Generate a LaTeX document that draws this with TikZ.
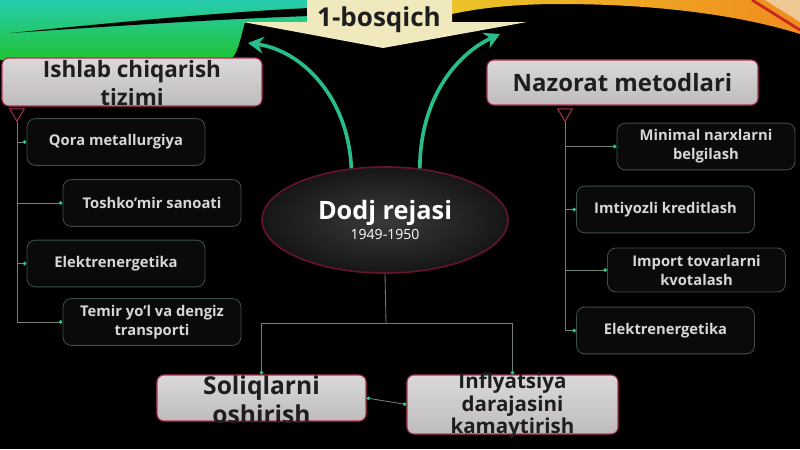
\documentclass[tikz,border=0pt]{standalone}
\usepackage{fontspec}
\setmainfont{Open Sans}
\definecolor{hdred}{RGB}{176, 48, 80}
\definecolor{hdtop}{RGB}{218, 216, 217}
\definecolor{hdbot}{RGB}{192, 188, 190}
\definecolor{hdink}{RGB}{30, 30, 30}
\definecolor{itemedge}{RGB}{62, 80, 70}
\definecolor{itemfill}{RGB}{10, 10, 10}
\definecolor{itemink}{RGB}{215, 215, 215}
\definecolor{linkgray}{RGB}{110, 130, 118}
\definecolor{dotgreen}{RGB}{40, 200, 130}
\definecolor{swgreen}{RGB}{40, 190, 140}
\definecolor{bannerbg}{RGB}{240, 233, 190}
\definecolor{waveteal}{RGB}{40, 205, 175}
\definecolor{wavegreen}{RGB}{30, 195, 50}
\definecolor{waveyellow}{RGB}{235, 195, 40}
\definecolor{waveorange}{RGB}{240, 140, 30}
\definecolor{wavepeach}{RGB}{240, 200, 150}
\definecolor{wavered}{RGB}{200, 40, 30}
\definecolor{ellred}{RGB}{100, 20, 40}
\definecolor{ellin}{RGB}{58, 58, 58}
\definecolor{ellout}{RGB}{22, 22, 22}
\usetikzlibrary{shapes.geometric, arrows.meta, positioning, calc}

\tikzset{
  hdbox/.style={draw=hdred, line width=0.8pt, top color=hdtop, bottom color=hdbot, rounded corners=5pt},
  hdtext/.style={text=hdink, align=center},
  itembox/.style={draw=itemedge, line width=0.6pt, fill=itemfill, rounded corners=6pt, text=itemink,
    align=center, minimum width=4.45cm, minimum height=1.17cm, font=\bfseries\fontsize{10.5}{13.5}\selectfont},
  trunkmark/.style={regular polygon, regular polygon sides=3, shape border rotate=180, draw=hdred,
    line width=0.7pt, minimum size=0.42cm, inner sep=0pt},
  link/.style={draw=linkgray, line width=0.6pt, -{Circle[length=2.6pt, color=dotgreen]}},
  swoosh/.style={draw=swgreen, line width=2.6pt, -{Stealth[length=11pt, width=12pt]}}
}

\begin{document}
\begin{tikzpicture}[x=0.025cm, y=-0.025cm]
  % Background
  \fill[black] (0,0) rectangle (800,449);
  \useasboundingbox (0,0) rectangle (800,449);
  \shade[top color=waveteal, bottom color=wavegreen] (0,0) -- (310,0) -- (310,22) -- (245,22)
    .. controls (240,40) and (238,52) .. (232,58) -- (0,60) -- cycle;
  \fill[black] (10,33) .. controls (100,24) and (220,12) .. (310,8) -- (310,16)
    .. controls (220,19) and (100,27) .. (10,33) -- cycle;
  \shade[left color=waveyellow, right color=waveorange] (452,0) -- (800,0) -- (800,34)
    .. controls (730,12) and (640,4) .. (560,4) .. controls (510,4) and (475,9) .. (452,14) -- cycle;
  \fill[wavepeach] (765,0) -- (800,0) -- (800,22) -- cycle;
  \draw[wavered, line width=2pt] (752,0) -- (800,30);

  % Stage banner
  \fill[bannerbg] (307,0) -- (452,0) -- (452,22) -- (527,22) -- (383,48) -- (243,22) -- (307,22) -- cycle;
  \node[text=hdink, font=\bfseries\fontsize{18.5}{20}\selectfont] (stage) at (379,20) {1-bosqich};

  % Centre
  \node[ellipse, draw=ellred, line width=1.2pt, inner color=ellin, outer color=ellout,
    minimum width=6.15cm, minimum height=2.65cm, align=center, text=white] (dodj) at (385,220)
    {{\bfseries\fontsize{18}{20}\selectfont Dodj rejasi}\\[2pt]{\fontsize{10}{12}\selectfont 1949-1950}};
  \coordinate (lgo) at (248,43);
  \coordinate (rgo) at (500,34);
  \draw[swoosh] (dodj.123) .. controls (348,95) and (300,50) .. (lgo);
  \draw[swoosh] (dodj.56) .. controls (420,100) and (455,55) .. (rgo);

  % Production system
  \node[hdbox, minimum width=6.5cm, minimum height=1.2cm] (ishlab) at (132,82) {};
  \node[hdtext, font=\bfseries\fontsize{16}{20}\selectfont] (ishlabtxt) at (132,83) {Ishlab chiqarish\\tizimi};
  \node[trunkmark] (lmark) at (17,113) {};
  \node[itembox] (qora) at (116,142) {Qora metallurgiya};
  \node[itembox] (tosh) at (152,203) {Toshko’mir sanoati};
  \node[itembox] (elek) at (116,263.5) {Elektrenergetika};
  \node[itembox] (temir) at (152,322) {Temir yo’l va dengiz\\transporti};
  \draw[link] (lmark.south) |- (qora.west);
  \draw[link] (lmark.south) |- (tosh.west);
  \draw[link] (lmark.south) |- (elek.west);
  \draw[link] (lmark.south) |- (temir.west);

  % Control methods
  \node[hdbox, hdtext, minimum width=6.775cm, minimum height=1.125cm,
    font=\bfseries\fontsize{17}{20}\selectfont] (nazorat) at (622.5,82.5) {Nazorat metodlari};
  \node[trunkmark] (rmark) at (565,113) {};
  \node[itembox] (minimal) at (706,146.5) {Minimal narxlarni\\belgilash};
  \node[itembox] (imtiyoz) at (665.5,209.5) {Imtiyozli kreditlash};
  \node[itembox, minimum height=1.1cm] (import) at (696.5,270) {Import tovarlarni\\kvotalash};
  \node[itembox] (elektr) at (665.5,330.5) {Elektrenergetika};
  \draw[link] (rmark.south) |- (minimal.west);
  \draw[link] (rmark.south) |- (imtiyoz.west);
  \draw[link] (rmark.south) |- (import.west);
  \draw[link] (rmark.south) |- (elektr.west);

  % Outcomes
  \node[hdbox, minimum width=5.225cm, minimum height=1.15cm] (soliq) at (261.5,398) {};
  \node[hdtext, font=\bfseries\fontsize{17.5}{20.5}\selectfont] (soliqtxt) at (261.5,400) {Soliqlarni\\oshirish};
  \node[hdbox, minimum width=5.275cm, minimum height=1.475cm] (infl) at (512.5,404.5) {};
  \node[hdtext, font=\bfseries\fontsize{14.6}{16}\selectfont] (infltxt) at (512.5,406) {Inflyatsiya\\darajasini\\kamaytirish};
  \coordinate (fork) at (386,323);
  \draw[draw=linkgray, line width=0.6pt] (dodj.south) -- (fork);
  \draw[link] (fork) -| (soliq.north);
  \draw[link] (fork) -| (infl.north);
  \draw[link, {Circle[length=2.6pt, color=dotgreen]}-{Circle[length=2.6pt, color=dotgreen]}] (soliq.east) -- (infl.west);
\end{tikzpicture}
\end{document}
